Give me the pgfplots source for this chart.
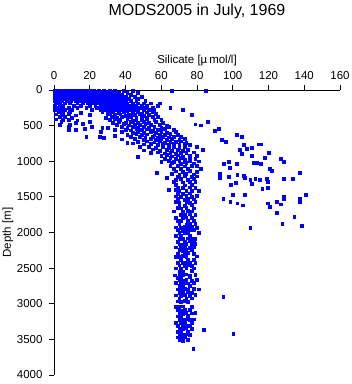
\documentclass[border=0pt]{standalone}
\usepackage{fontspec}
\setmainfont{Liberation Sans}
\usepackage{pgfplots}
\pgfplotsset{compat=1.18}
\definecolor{pblue}{RGB}{0,0,255}
\begin{document}
\begin{tikzpicture}
\begin{axis}[
  scale only axis, width=286pt, height=285pt,
  xmin=0, xmax=160, ymin=0, ymax=4000, y dir=reverse,
  axis x line*=top, axis y line*=left,
  axis line style={black, line width=0.9pt},
  xtick={0,20,...,160}, ytick={0,500,...,4000},
  tick align=outside, major tick length=5pt,
  tick style={black, line width=0.9pt},
  /pgf/number format/assume math mode=true,
  /pgf/number format/1000 sep={},
  scaled ticks=false,
  tick label style={font=\fontsize{11.5}{13}\selectfont},
  xticklabel style={yshift=2pt},
  yticklabel style={xshift=-3pt},
  label style={font=\fontsize{11.5}{13}\selectfont},
  xlabel={Silicate [µ\,mol/l]},
  ylabel={Depth [m]},
  title={MODS2005 in July, 1969},
  title style={font=\fontsize{16}{19}\selectfont, at={(0.5,1)}, anchor=base, yshift=68pt},
  xlabel style={at={(0.5,1)}, anchor=base, yshift=26pt},
  ylabel style={at={(0,0.5)}, anchor=base, yshift=43pt},
]
\addplot[only marks, pblue, mark=square*, mark size=1.4pt] coordinates {
(0.5,8) (2.5,8) (4.5,8) (6.5,8) (8.5,8) (10.5,8) (12.5,8) (14.5,8) (16.5,8) (18.5,8) (20.5,8) (22.5,8) (25,8) (28,8) (31,8) (34,8) (39,8) (44,8) (66,8) (85,8)
(0.5,35) (2.5,35) (4.5,35) (6.5,35) (8.5,35) (10.5,35) (12.5,35) (14.5,35) (16.5,35) (18.5,35) (20.5,35) (22.5,35) (24.5,35) (26.5,35) (29,35) (32,35) (36,35) (41,35) (47,35)
(0.5,65) (2.5,65) (4.5,65) (6.5,65) (8.5,65) (10.5,65) (12.5,65) (14.5,65) (16.5,65) (18.5,65) (20.5,65) (22.5,65) (24.5,65) (26.5,65) (28.5,65) (30.5,65) (33,65) (35,65) (38,65) (43,65)
(0.5,95) (2.5,95) (4.5,95) (6.5,95) (8.5,95) (10.5,95) (12.5,95) (14.5,95) (16.5,95) (18.5,95) (20.5,95) (22.5,95) (24.5,95) (26.5,95) (28.5,95) (30.5,95) (32.5,95) (34.5,95) (37,95) (40,95) (45,95) (49,95)
(0.5,125) (2.5,125) (4.5,125) (6.5,125) (8.5,125) (10.5,125) (12.5,125) (14.5,125) (16.5,125) (18.5,125) (20.5,125) (22.5,125) (24.5,125) (26.5,125) (28.5,125) (30.5,125) (32.5,125) (34.5,125) (36.5,125) (39,125) (42,125) (47,125)
(0.5,155) (2.5,155) (4.5,155) (7,155) (9.5,155) (12,155) (14,155) (16,155) (18,155) (20,155) (22,155) (24,155) (26,155) (28,155) (30,155) (32,155) (34,155) (36,155) (38,155) (40,155) (43,155) (46,155) (51,155)
(1,185) (3,185) (6,185) (9,185) (13,185) (16,185) (19,185) (21,185) (23,185) (25,185) (27,185) (29,185) (31,185) (33,185) (35,185) (37,185) (39,185) (41,185) (44,185) (47,185) (50,185) (54,185) (59,185)
(0.5,215) (3,215) (5,215) (11,215) (15,215) (20,215) (23,215) (26,215) (28,215) (30,215) (32,215) (34,215) (36,215) (38,215) (40,215) (42,215) (44,215) (46,215) (49,215) (52,215) (58,215)
(1,245) (2.5,245) (8,245) (13,245) (18,245) (24,245) (27,245) (30,245) (32,245) (34,245) (36,245) (38,245) (40,245) (42,245) (44,245) (46,245) (48,245) (51,245) (55,245) (65,245)
(0.5,275) (4,275) (6,275) (10,275) (21,275) (26,275) (29,275) (31,275) (33,275) (35,275) (37,275) (39,275) (41,275) (43,275) (45,275) (47,275) (50,275) (53,275) (56,275) (72,275)
(2.5,305) (5,318) (9,302) (15,322) (27,308) (31,318) (33,300) (36,322) (39,310) (41,298) (44,318) (47,306) (49,325) (52,312) (55,300)
(1,340) (4,352) (8,338) (12,355) (20,345) (30,335) (34,352) (37,340) (40,358) (42,343) (45,350) (48,336) (50,356) (53,345) (57,338) (77,345)
(3,380) (6,372) (10,388) (29,385) (32,372) (35,392) (38,378) (41,390) (43,370) (46,385) (49,375) (52,392) (55,380) (58,370)
(1,410) (5,420) (8,412) (13,425) (31,418) (34,405) (37,422) (41,410) (44,428) (46,412) (49,420) (52,405) (56,422) (60,412)
(4,448) (12,455) (20,445) (33,458) (36,442) (40,455) (43,448) (47,462) (50,445) (53,455) (57,440) (61,458) (86,450)
(3,482) (9,488) (16,478) (35,490) (39,478) (42,495) (45,482) (48,492) (51,478) (54,490) (59,482) (63,495) (79,481) (82,495)
(8,520) (21,515) (27,525) (30,529) (38,512) (41,528) (44,518) (47,532) (50,515) (53,528) (56,512) (60,530) (64,520)
(8,561) (12,552) (17,545) (34,560) (40,552) (43,565) (46,548) (49,562) (52,550) (55,568) (58,555) (62,545) (67,560) (90,566) (92,547)
(26,590) (38,585) (44,598) (47,582) (50,595) (54,588) (57,600) (60,585) (63,597) (68,590)
(41,625) (46,618) (49,632) (52,620) (56,635) (59,622) (62,630) (65,618) (69,628) (102,627)
(18,655) (25.7,655) (27.6,669) (34,646) (43,660) (48,650) (51,665) (55,652) (58,668) (61,655) (64,662) (67,650) (71,660) (105,655)
(38,690) (45,685) (50,698) (54,682) (57,695) (60,688) (63,700) (66,684) (70,695) (73,688)
(41,735) (47,725) (52,718) (56,732) (59,720) (62,735) (65,722) (68,730) (71,718) (74,735) (94,702) (96,725)
(44,748) (50,762) (54,752) (58,768) (61,755) (64,770) (67,758) (70,765) (73,752) (76,768) (106,767) (115.8,762) (114.5,762)
(48,800) (53,792) (57,808) (61,795) (64,810) (67,798) (70,805) (73,795) (80,800) (110.6,809)
(50,845) (55,832) (59,848) (63,838) (66,850) (69,835) (72,848) (75,838) (83,840) (104,837) (107.6,819)
(54,880) (58,872) (62,888) (65,875) (68,890) (71,878) (74,885) (78,872) (105,889) (119.9,875)
(47,935) (60,920) (63,912) (66,928) (69,915) (72,930) (76,918) (80,925) (110.8,926)
(62,960) (65,952) (68,968) (71,955) (73,970) (76,958) (79,965) (117.7,950) (126.6,964)
(60,1006) (64,995) (67,1008) (70,992) (73,1005) (76,996) (81,1000) (128.7,1001)
(66,1025) (71,1030) (74,1020) (78,1028) (95.1,1029) (97.7,1011) (102.2,1029) (111.5,1020) (113.7,1020) (115.6,1029)
(65,1065) (69,1060) (73,1070) (77,1062) (80,1068)
(98.1,1085) (120.6,1103)
(67,1105) (71,1100) (75,1110) (82,1105)
(68,1140) (72,1148) (76,1135) (80,1142) (121.8,1137)
(57.5,1165) (137.6,1156)
(66,1180) (70,1185) (74,1175) (78,1182) (92.9,1179) (102.5,1188)
(69,1215) (73,1208) (77,1220) (80,1210) (97.9,1216) (105.9,1207)
(63,1235) (92.9,1231) (106.5,1226)
(68,1255) (71,1248) (75,1260) (78,1250) (112.6,1244) (119,1244) (128.5,1244) (133.5,1249)
(109.8,1263) (115.2,1258) (119.5,1286)
(67,1290) (72,1295) (76,1285) (79,1292) (101.6,1296)
(99,1324) (110.8,1310)
(68,1330) (73,1335) (77,1325)
(69,1370) (72,1375) (76,1365) (79,1372) (116.5,1380) (119.5,1366)
(64,1403) (68,1400)
(70,1410) (74,1418) (77,1408) (81,1412)
(69,1450) (72,1455) (76,1448)
(99.8,1464) (106.9,1464) (140.6,1474)
(68,1490) (71,1495) (74,1488) (77,1492) (80,1485) (128.7,1497)
(94.7,1525) (137.6,1525)
(69,1530) (73,1535) (75,1525) (78,1532) (128.7,1530)
(98.6,1563) (124.6,1567) (137.6,1567)
(68,1570) (70,1575) (74,1568) (76,1578) (79,1570)
(102.5,1590) (119.7,1590) (126.6,1604)
(70,1615) (73,1620) (77,1612) (105.7,1618) (120.6,1633)
(69,1655) (71,1660) (74,1650) (78,1658)
(67,1700) (72,1705) (75,1695) (77,1702)
(124.8,1722)
(71,1745) (73,1750) (76,1742) (79,1748)
(134.4,1773)
(68,1790) (72,1795) (74,1785) (77,1792)
(69,1835) (71,1840) (75,1830) (78,1838)
(127.7,1871)
(70,1880) (74,1885) (76,1875) (79,1882)
(138.6,1899)
(68,1925) (71,1930) (73,1920) (75,1928) (77,1922) (80,1930)
(109.8,1937)
(69,1965) (72,1970) (74,1960) (76,1968) (78,1962)
(70,2005) (73,2010) (75,2000) (81,2005)
(68,2045) (71,2050) (76,2042)
(70,2085) (72,2090) (75,2080) (77,2088) (79,2082)
(69,2125) (73,2130) (76,2122) (78,2128)
(70,2165) (72,2170) (74,2160) (77,2168) (79,2162)
(68,2205) (71,2210) (73,2200) (76,2208) (78,2202)
(70,2245) (72,2250) (74,2240) (77,2248)
(69,2290) (73,2295) (75,2285) (78,2292)
(68,2335) (70,2340) (72,2330) (74,2338) (80,2332)
(71,2380) (75,2385) (78,2378)
(69,2420) (72,2425) (74,2418) (76,2428) (79,2422)
(70,2460) (73,2465) (75,2455) (77,2462)
(68,2500) (71,2505) (74,2498) (78,2502)
(70,2545) (72,2550) (77,2540)
(67.7,2600) (70,2590) (72,2595) (74,2585) (76,2598) (79,2590)
(69,2630) (71,2635) (76,2628)
(70,2670) (72,2675) (74,2665) (77,2672) (80,2668)
(68,2710) (71,2715) (73,2705) (75,2712) (78,2708)
(70,2750) (72,2755) (76,2748)
(69,2795) (71,2800) (73,2790) (75,2798) (78,2792) (81,2796)
(70,2840) (72,2845) (75,2838) (77,2842)
(68,2880) (71,2885) (73,2878) (76,2882) (79,2876)
(94.7,2901)
(70,2925) (74,2930) (77,2922)
(69,2965) (71,2970) (73,2962) (75,2968)
(68,3040) (70,3045) (72,3035) (77,3042)
(69,3085) (71,3090) (73,3082) (76,3088)
(70,3130) (72,3135) (74,3128) (77,3132) (79,3126)
(69,3175) (71,3180) (75,3172)
(70,3220) (72,3225) (74,3218) (76,3222) (78,3216)
(68,3265) (71,3270) (73,3262) (77,3268)
(69,3305) (72,3310) (74,3302) (76,3308)
(70,3345) (72,3350) (74,3342) (77,3348) (83.7,3359)
(69,3390) (71,3395) (75,3388)
(100.3,3415)
(70,3430) (72,3435) (74,3428) (76,3432)
(69,3470) (71,3475) (73,3468)
(70,3510) (72,3515) (75,3508)
(77.9,3626)
};
\end{axis}
\pgfresetboundingbox
\path ([shift={(-54pt,-9pt)}]current axis.south west) rectangle ([shift={(11pt,90pt)}]current axis.north east);
\end{tikzpicture}
\end{document}
